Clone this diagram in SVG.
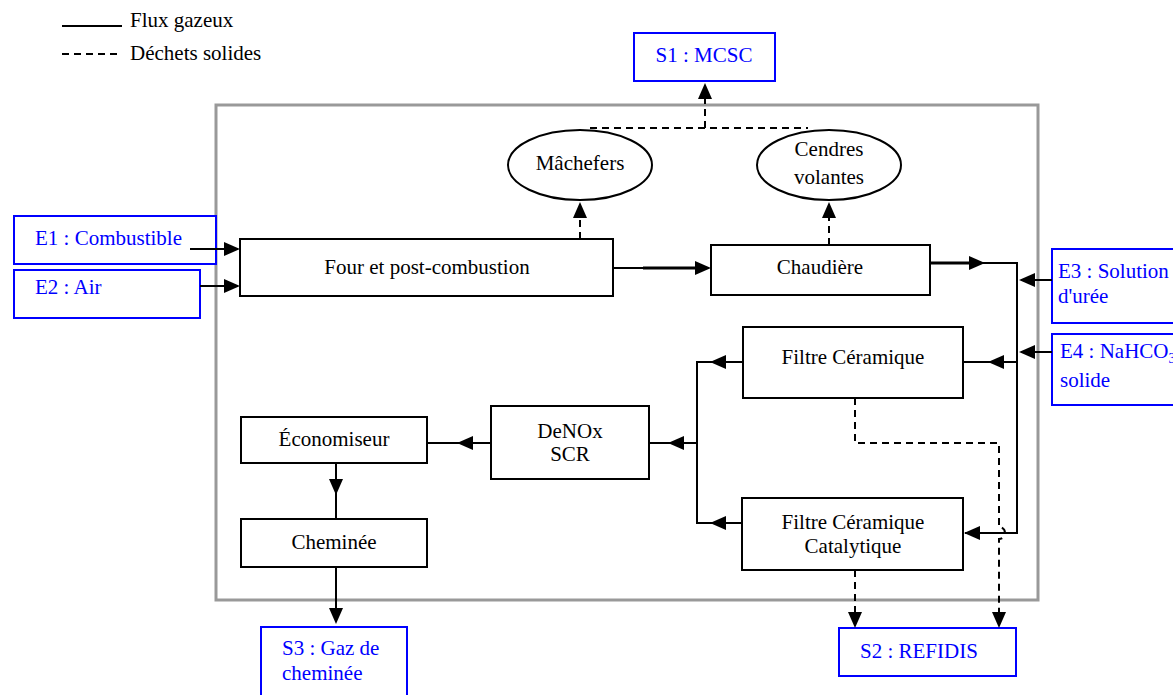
<svg xmlns="http://www.w3.org/2000/svg" xmlns:xlink="http://www.w3.org/1999/xlink" width="1173" height="695" viewBox="0 0 1173 695" font-family="'Liberation Serif', 'Times New Roman', Times, serif">
  <style>
    text { font-family: "Liberation Serif", "Times New Roman", Times, serif; font-size: 21px; fill: #000; }
    .c { text-anchor: middle; }
    .io { fill: #0000ff; }
    .box { fill: #fff; stroke: #000; stroke-width: 2; }
    .iobox { fill: #fff; stroke: #0000ff; stroke-width: 2; }
    .gas { fill: none; stroke: #000; stroke-width: 2; }
    .thick { fill: none; stroke: #000; stroke-width: 3; }
    .solid { fill: none; stroke: #000; stroke-width: 2; stroke-dasharray: 7 5; }
    .frame { fill: none; stroke: #999; stroke-width: 3; }
  </style>
  <defs>
    <!-- arrowhead pointing right, tip at origin -->
    <path id="ah" d="M0,0 L-16,-7 L-16,7 Z" fill="#000"/>
  </defs>

  <!-- legend -->
  <g id="legend">
    <line x1="62" y1="26" x2="122" y2="26" class="gas"/>
    <text x="130" y="27">Flux gazeux</text>
    <line x1="62" y1="54" x2="122" y2="54" class="solid"/>
    <text x="130" y="60">Déchets solides</text>
  </g>

  <!-- plant boundary -->
  <rect id="boundary" x="216" y="105" width="822" height="495" class="frame"/>

  <!-- inputs / outputs -->
  <g id="e1">
    <rect x="14" y="216" width="202" height="48" class="iobox"/>
    <text x="35" y="245" class="io">E1 : Combustible</text>
  </g>
  <g id="e2">
    <rect x="14" y="270" width="186" height="48" class="iobox"/>
    <text x="35" y="294" class="io">E2 : Air</text>
  </g>
  <g id="e3">
    <rect x="1052" y="249" width="130" height="74" class="iobox"/>
    <text x="1058" y="278" class="io">E3 : Solution</text>
    <text x="1058" y="303" class="io">d'urée</text>
  </g>
  <g id="e4">
    <rect x="1052" y="334" width="130" height="71" class="iobox"/>
    <text x="1060" y="358" class="io">E4 : NaHCO<tspan dy="5" font-size="14">3</tspan></text>
    <text x="1060" y="387" class="io">solide</text>
  </g>
  <g id="s1">
    <rect x="634" y="33" width="141" height="48" class="iobox"/>
    <text x="704" y="62" class="io c">S1 : MCSC</text>
  </g>
  <g id="s2">
    <rect x="839" y="628" width="177" height="48" class="iobox"/>
    <text x="860" y="658" class="io">S2 : REFIDIS</text>
  </g>
  <g id="s3">
    <rect x="261" y="627" width="146" height="75" class="iobox"/>
    <text x="282" y="655" class="io">S3 : Gaz de</text>
    <text x="282" y="680" class="io">cheminée</text>
  </g>

  <!-- process units -->
  <g id="four">
    <rect x="240" y="239" width="373" height="57" class="box"/>
    <text x="427" y="274" class="c">Four et post-combustion</text>
  </g>
  <g id="chaudiere">
    <rect x="711" y="245" width="219" height="50" class="box"/>
    <text x="820" y="274" class="c">Chaudière</text>
  </g>
  <g id="machefers">
    <ellipse cx="580" cy="165" rx="72" ry="35" class="box"/>
    <text x="580" y="170" class="c">Mâchefers</text>
  </g>
  <g id="cendres">
    <ellipse cx="829" cy="165" rx="72" ry="35" class="box"/>
    <text x="829" y="156" class="c">Cendres</text>
    <text x="829" y="184" class="c">volantes</text>
  </g>
  <g id="filtre">
    <rect x="743" y="327" width="220" height="71" class="box"/>
    <text x="853" y="364" class="c">Filtre Céramique</text>
  </g>
  <g id="filtre-cat">
    <rect x="742" y="498" width="221" height="72" class="box"/>
    <text x="853" y="529" class="c">Filtre Céramique</text>
    <text x="853" y="553" class="c">Catalytique</text>
  </g>
  <g id="denox">
    <rect x="491" y="406" width="158" height="73" class="box"/>
    <text x="570" y="438" class="c">DeNOx</text>
    <text x="570" y="461" class="c">SCR</text>
  </g>
  <g id="economiseur">
    <rect x="241" y="417" width="186" height="46" class="box"/>
    <text x="334" y="446" class="c">Économiseur</text>
  </g>
  <g id="cheminee">
    <rect x="241" y="519" width="186" height="48" class="box"/>
    <text x="334" y="549" class="c">Cheminée</text>
  </g>

  <!-- connectors -->
  <g id="connectors">
    <!-- gas flows -->
    <line x1="190" y1="249" x2="238" y2="249" class="gas"/>
    <use xlink:href="#ah" transform="translate(240,249)"/>
    <line x1="200" y1="286" x2="238" y2="286" class="gas"/>
    <use xlink:href="#ah" transform="translate(240,286)"/>

    <line x1="613" y1="268" x2="709" y2="268" class="gas"/>
    <line x1="643" y1="268" x2="695" y2="268" class="thick"/>
    <use xlink:href="#ah" transform="translate(711,268)"/>

    <polyline points="930,263 1017,263 1017,533 965,533" class="gas"/>
    <line x1="930" y1="263" x2="972" y2="263" class="thick"/>
    <use xlink:href="#ah" transform="translate(985,263)"/>
    <use xlink:href="#ah" transform="translate(964,533) rotate(180)"/>

    <line x1="1052" y1="280" x2="1021" y2="280" class="gas"/>
    <use xlink:href="#ah" transform="translate(1019,280) rotate(180)"/>
    <line x1="1052" y1="352" x2="1021" y2="352" class="gas"/>
    <use xlink:href="#ah" transform="translate(1019,352) rotate(180)"/>

    <line x1="1017" y1="362" x2="963" y2="362" class="gas"/>
    <use xlink:href="#ah" transform="translate(988,362) rotate(180)"/>

    <polyline points="743,362 697,362 697,523 742,523" class="gas"/>
    <use xlink:href="#ah" transform="translate(710,362) rotate(180)"/>
    <use xlink:href="#ah" transform="translate(710,523) rotate(180)"/>

    <line x1="697" y1="443" x2="649" y2="443" class="gas"/>
    <use xlink:href="#ah" transform="translate(668,443) rotate(180)"/>
    <line x1="491" y1="443" x2="427" y2="443" class="gas"/>
    <use xlink:href="#ah" transform="translate(457,443) rotate(180)"/>

    <line x1="336" y1="463" x2="336" y2="519" class="gas"/>
    <use xlink:href="#ah" transform="translate(336,495) rotate(90)"/>
    <line x1="336" y1="567" x2="336" y2="621" class="gas"/>
    <use xlink:href="#ah" transform="translate(336,624) rotate(90)"/>

    <!-- solid residues -->
    <line x1="580" y1="239" x2="580" y2="205" class="solid"/>
    <use xlink:href="#ah" transform="translate(580,202) rotate(-90)"/>
    <line x1="829" y1="245" x2="829" y2="205" class="solid"/>
    <use xlink:href="#ah" transform="translate(829,202) rotate(-90)"/>

    <line x1="590" y1="128" x2="808" y2="128" class="solid"/>
    <line x1="705" y1="128" x2="705" y2="86" class="solid"/>
    <use xlink:href="#ah" transform="translate(705,83) rotate(-90)"/>

    <line x1="855" y1="570" x2="855" y2="625" class="solid"/>
    <use xlink:href="#ah" transform="translate(855,628) rotate(90)"/>

    <path d="M855,398 L855,443 L999,443 L999,527 A6,6 0 0 1 999,539 L999,625" class="solid"/>
    <use xlink:href="#ah" transform="translate(999,628) rotate(90)"/>
  </g>
</svg>
